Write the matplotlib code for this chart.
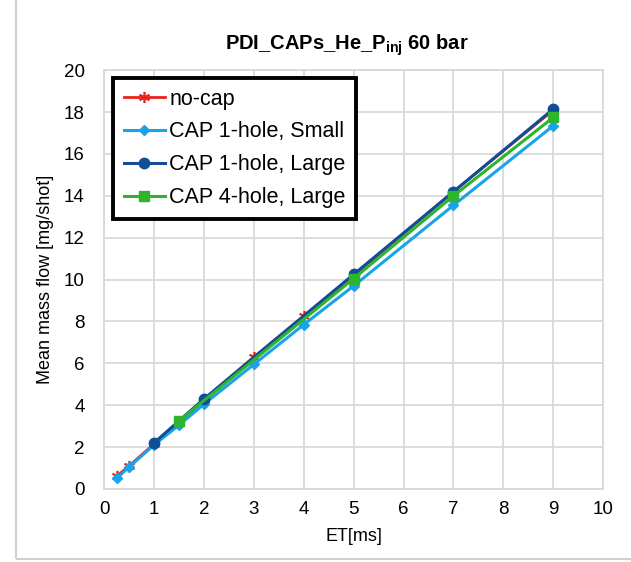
import matplotlib
matplotlib.use("Agg")
import matplotlib.pyplot as plt
from matplotlib.patches import Rectangle

plt.rcParams['font.family'] = ['Liberation Sans', 'DejaVu Sans']
plt.rcParams['mathtext.fontset'] = 'custom'
plt.rcParams['mathtext.rm'] = 'Liberation Sans'
plt.rcParams['mathtext.bf'] = 'Liberation Sans:bold'

# data
et_nocap = [0.25, 0.5, 1, 1.5, 2, 3, 4, 5, 7, 9]
mf_nocap = [0.6, 1.1, 2.15, 3.2, 4.25, 6.3, 8.25, 10.2, 14.2, 18.1]

et_small = [0.25, 0.5, 1, 1.5, 2, 3, 4, 5, 7, 9]
mf_small = [0.5, 1.05, 2.1, 3.05, 4.05, 5.95, 7.85, 9.7, 13.55, 17.35]

et_large = [1, 2, 5, 7, 9]
mf_large = [2.2, 4.3, 10.25, 14.2, 18.15]

et_4hole = [1.5, 5, 7, 9]
mf_4hole = [3.25, 10.05, 14.0, 17.75]

fig = plt.figure(figsize=(6.31, 5.62), dpi=100)
ax = fig.add_axes([0.165, 0.130, 0.791, 0.745])

# chart-area frame
fig.patches.append(Rectangle((16 / 631, 3 / 562), 1.0, 1.0, transform=fig.transFigure,
                             fill=False, edgecolor='#d0d0d0', linewidth=1.5))

ax.plot(et_nocap, mf_nocap, color='#e8211a', marker=(6, 2, 0), markersize=8,
        markeredgewidth=1.2, linewidth=2, label='no-cap')
ax.plot(et_small, mf_small, color='#1aa3e8', marker='D', markersize=5.5,
        linewidth=2.2, label='CAP 1-hole, Small')
ax.plot(et_large, mf_large, color='#104e98', marker='o', markersize=7.5,
        linewidth=2.2, label='CAP 1-hole, Large')
ax.plot(et_4hole, mf_4hole, color='#2db52d', marker='s', markersize=7.5,
        linewidth=2.2, label='CAP 4-hole, Large')

ax.set_xlim(0, 10)
ax.set_ylim(0, 20)
ax.set_xticks(range(0, 11))
ax.set_yticks(range(0, 21, 2))
ax.grid(True, color='#d9d9d9', linewidth=1.3)
ax.set_axisbelow(True)
ax.tick_params(length=0, labelsize=13.5, pad=9)
ax.tick_params(axis='y', pad=14)
for s in ax.spines.values():
    s.set_color('#d9d9d9')
    s.set_linewidth(1.3)

ax.set_xlabel('ET[ms]', fontsize=13, labelpad=7)
ax.set_ylabel('Mean mass flow [mg/shot]', fontsize=13, labelpad=7)

fig.text(0.55, 0.92, r'PDI_CAPs_He_P$_{\mathbf{inj}}$ 60 bar', fontsize=14.5,
         fontweight='bold', ha='center', va='center')

leg = ax.legend(loc='upper left', bbox_to_anchor=(0.018, 0.982), fontsize=15.5,
                frameon=True, fancybox=False, framealpha=1, handlelength=1.9,
                handletextpad=0.2, labelspacing=0.55, borderpad=0.5, borderaxespad=0)
leg.get_frame().set_edgecolor('black')
leg.get_frame().set_linewidth(2.8)

fig.savefig('out.png', dpi=100)
